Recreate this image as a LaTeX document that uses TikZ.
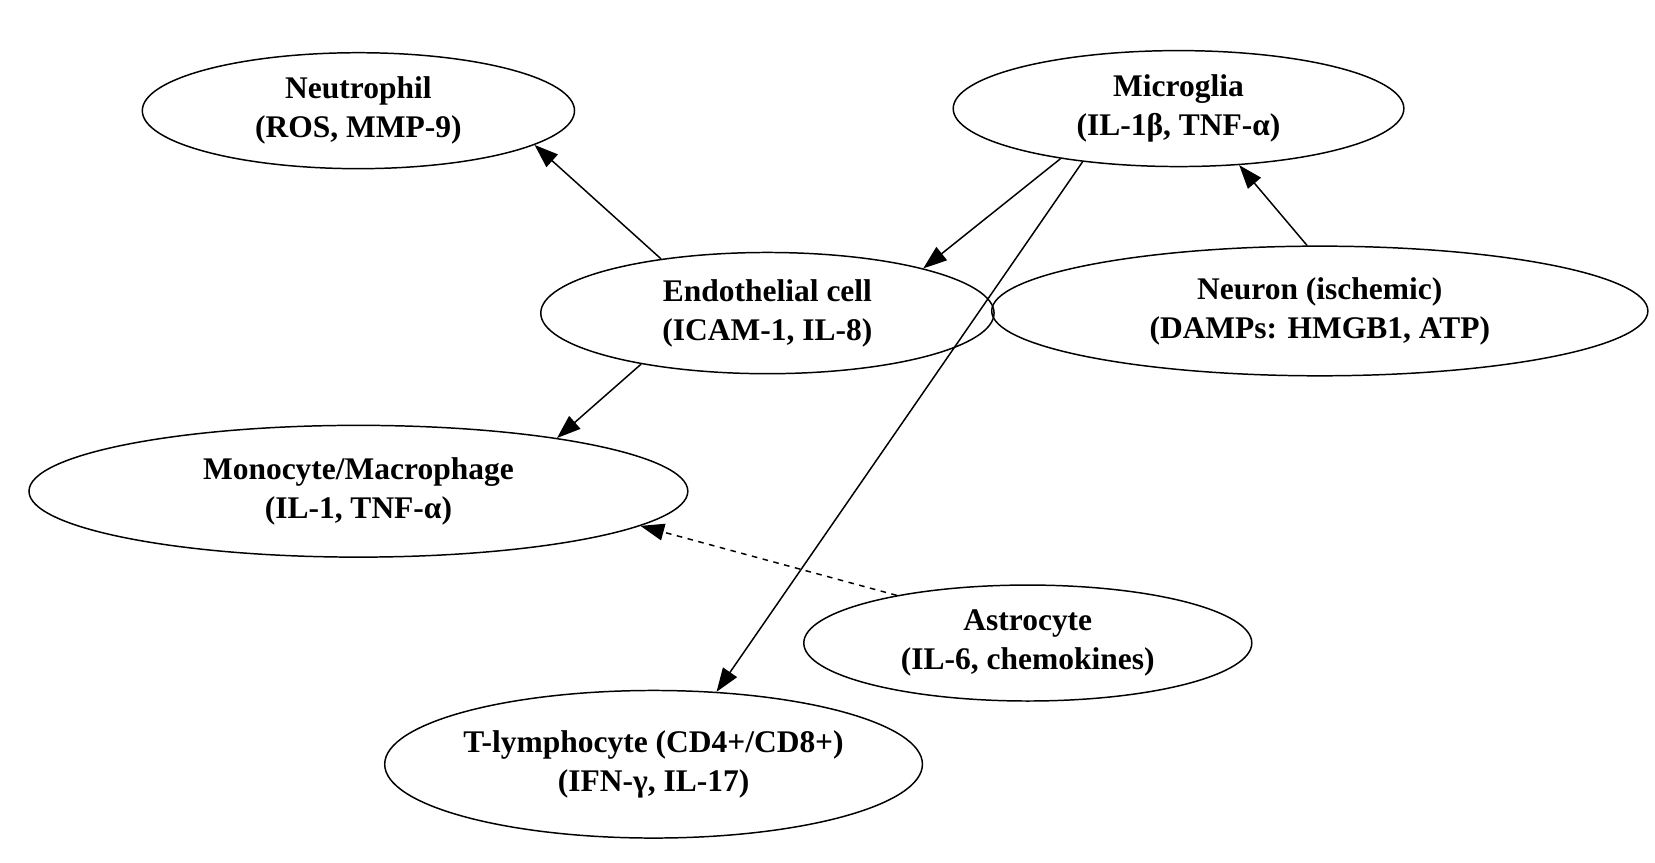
\documentclass[tikz,border=0pt]{standalone}
\usepackage{fontspec}
\setmainfont{Liberation Serif}
\usetikzlibrary{arrows.meta,shapes.geometric,positioning}
\begin{document}
\begin{tikzpicture}[
		>={Triangle[length=0.45cm,width=0.32cm]},
		cell/.style={
			ellipse,
			draw,
			thick,
			align=center,
			inner sep=0pt,
			font=\fontsize{17}{21}\selectfont\bfseries
		},
		link/.style={->, thick}
		]
		\useasboundingbox (0,0) rectangle (31.4,-16.36);
		
		% Cells
		\node[cell, minimum width=8.2cm, minimum height=2.2cm] (Neutrophil) at (6.8,-2.1) {Neutrophil\\(ROS, MMP-9)};
		\node[cell, minimum width=8.55cm, minimum height=2.2cm] (Microglia) at (22.36,-2.06) {Microglia\\(IL-1β, TNF-α)};
		\node[cell, minimum width=8.6cm, minimum height=2.3cm] (Endothelial) at (14.56,-5.94) {Endothelial cell\\(ICAM-1, IL-8)};
		\node[cell, minimum width=12.45cm, minimum height=2.46cm] (Neuron) at (25.04,-5.9) {Neuron (ischemic)\\(DAMPs: HMGB1, ATP)};
		\node[cell, minimum width=12.5cm, minimum height=2.5cm] (Monocyte) at (6.8,-9.32) {Monocyte/Macrophage\\(IL-1, TNF-α)};
		\node[cell, minimum width=8.5cm, minimum height=2.2cm] (Astrocyte) at (19.5,-12.2) {Astrocyte\\(IL-6, chemokines)};
		\node[cell, minimum width=9.9cm, minimum height=2.8cm] (Tcell) at (12.4,-14.5) {T-lymphocyte (CD4+/CD8+)\\(IFN-γ, IL-17)};
		
		% Links
		\draw[link] (Endothelial.153) -- (Neutrophil.-11);
		\draw[link] (Microglia.-157) -- (Endothelial.16);
		\draw[link] (Microglia.-151) -- (Tcell.49);
		\draw[link] (Neuron.101) -- (Microglia.-43);
		\draw[link] (Endothelial.202) -- (Monocyte.15);
		\draw[link, dashed] (Astrocyte.160) -- (Monocyte.-7);
		
	\end{tikzpicture}
\end{document}
